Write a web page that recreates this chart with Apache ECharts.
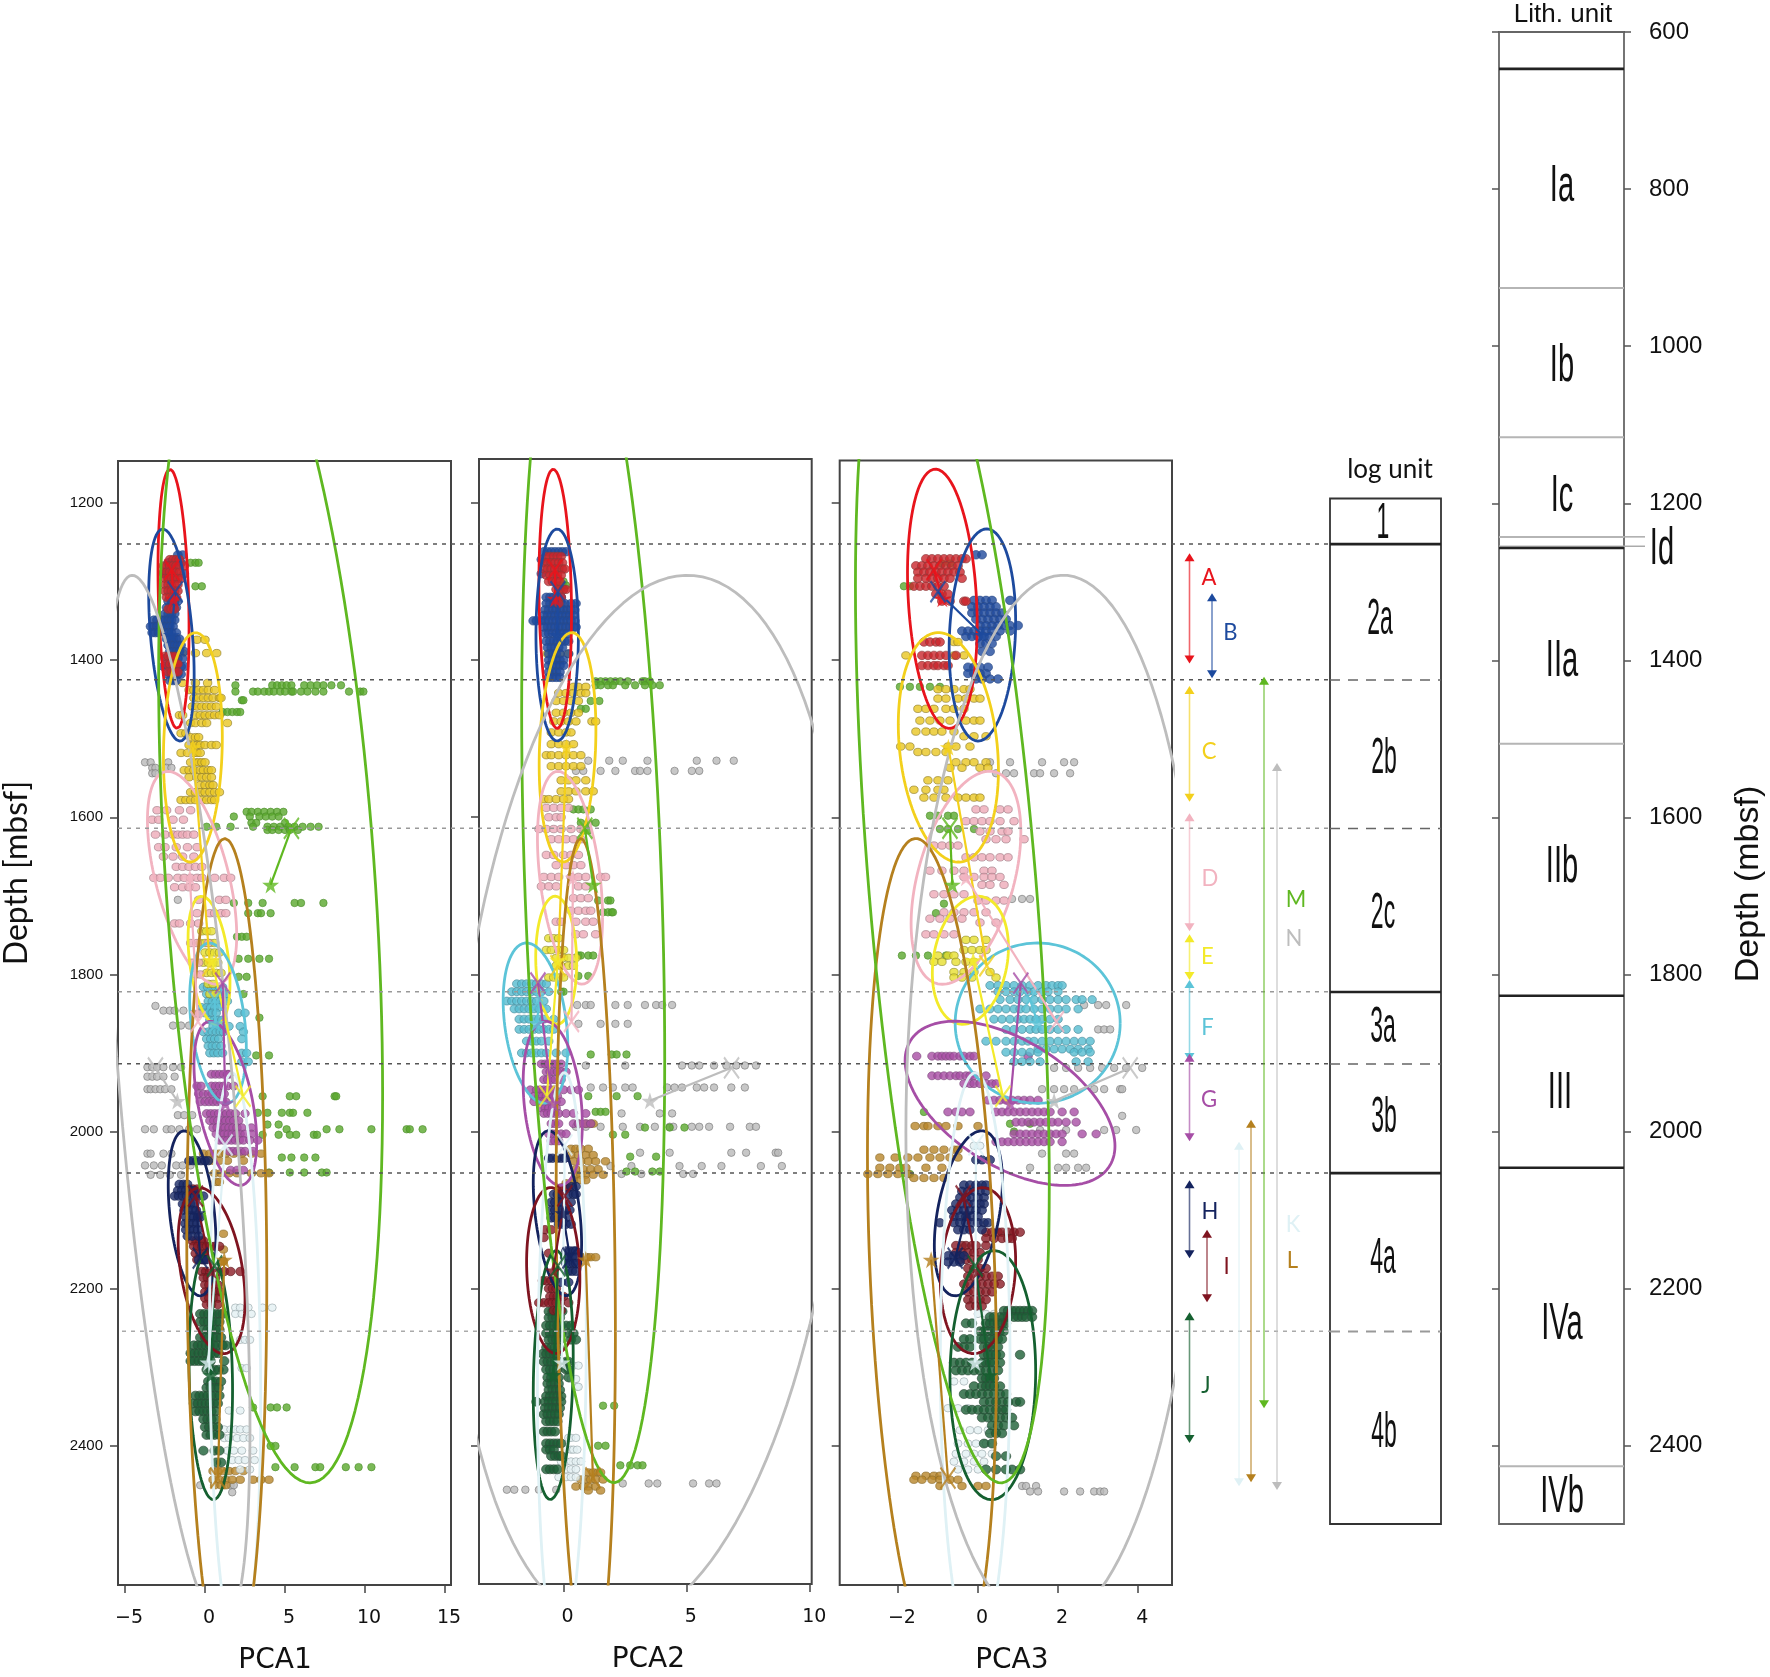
<!DOCTYPE html>
<html><head><meta charset="utf-8">
<style>html,body{margin:0;padding:0;background:#fff}#c{width:1770px;height:1677px}</style>
<script src="https://cdn.jsdelivr.net/npm/echarts@6/dist/echarts.min.js"></script>
</head><body><div id="c"></div>
<script>
const letters=['A','B','C','D','E','F','G','H','I','J','K','L','M','N'];
const clusterColors=['#e8141c','#1d4a9e','#f3d01c','#f2b3c0','#f3ea2a','#5cc4d8','#a64ea6','#14235e','#7f1420','#156030','#dff1f5','#b5801e','#5fb821','#bdbdbd'];
const pointFill=['#c9252c','#1f4a9c','#e9c522','#eeaab8','#e6df30','#55bcd0','#a84ea4','#1a2a66','#8a1c26','#1d5f36','#e4f0f3','#b8862b','#5aa82d','#b9b9b9'];
const pointEdge=['#8a3a3a','#2a4a86','#8f7d28','#a07a84','#8f8a28','#4a8a9a','#7c4a7c','#141f50','#5f1a20','#2c4c38','#9aa8ac','#8a6a2a','#4d8f2c','#777777'];
const pointWidth=[9,9,8.5,8.5,8.5,8.5,8.5,9,9,9.5,8,8.5,7.5,7.5];
const pointHeight=[8.5,8.5,7.5,7.5,7.5,8,8,8.5,8.5,9,7.5,7.5,7.5,7.5];

/* rows: [depth, x, x, ...] */
const pca1_A=[[1272,-2.2,-2,-1.8,-1.6],[1280,-2.6,-2.4,-2.2,-2,-1.8,-1.6,-1.3],[1288,-2.6,-2.4,-2.2,-2,-1.8,-1.6],[1296,-2.5,-2.3,-2.1,-1.9,-1.7,-1.5],[1304,-2.5,-2.3,-2.1,-1.9,-1.7],[1312,-2.5,-2.3,-2.1,-1.9,-1.7],[1320,-2.4,-2.2,-2,-1.8],[1335,-2.3,-2.1,-1.9],[1395,-2.5,-2.3,-2.1,-1.9],[1405,-2.4,-2.2,-2,-1.8,-1.7],[1415,-2.3,-2.1,-1.9,-1.7]];
const pca1_B=[[1266,-1.7,-1.4],[1276,-2.3,-1.9,-1.5],[1290,-2.6,-1.3],[1325,-2.3,-2.1,-1.9,-1.7],[1333,-2.4,-2.2,-2,-1.8],[1341,-2.5,-2.3,-2.1,-1.9],[1349,-3.2,-3,-2.7,-2.5,-2.3,-2.1,-1.9],[1357,-3.4,-3.2,-3,-2.8,-2.6,-2.4,-2.2,-2],[1365,-3.3,-3.1,-2.9,-2.5,-2.3,-2.1,-1.8],[1373,-2.4,-2.2,-2,-1.8,-1.6],[1381,-2.3,-2.1,-1.9,-1.7,-1.5],[1389,-2.2,-2,-1.8,-1.6,-1.3],[1398,-2.5,-2.2,-2,-1.7,-1.4],[1408,-2.6,-2.3,-2,-1.8,-1.5,-1.3],[1418,-2.3,-2.1,-1.9,-1.7,-1.5],[1426,-2.2,-2,-1.8]];
const pca1_C=[[1374,-.5,0],[1391,-1.4,-.6,.1,.73],[1429,-1.4,-.6,.16],[1438,-1,-.7,-.4,-.1,.2,.6],[1448,-.7,-.4,-.1,.2,.5,.9,1],[1459,-.8,-.5,-.2,.1,.4,.7],[1470,-1.6,-1.4,-.6,-.3,0,.3,.6,.9],[1480,-.9,-.6,-.2,.1,1.4],[1493,-1.5,-1.2],[1498,-.9,-.6,-.4],[1508,-1,-.7,-.5,-.3,0,.4,.7],[1518,-1.5,-1.1,-.7,-.5,-.3],[1530,-.9,-.6,-.4,-.2,0],[1540,-1.3,-1,-.7,-.3,-.1,.2,.4],[1549,-1,-.5,-.2,.1,.4],[1559,-.3,0,.3,.5],[1568,-.9,-.6,-.3,0,.3,.6,.9],[1578,-1.5,-1.2,-.9,-.6,-.2,.1,.4,.6]];
const pca1_D=[[1591,-3,-2.4,-1.6,-.9],[1603,-3.3,-2.9,-2,-1.35],[1622,-3.1,-2.5,-2,-1.7,-1.4,-1.1,-.7],[1638,-2.9,-2.5,-1.8,-1.1,-.5],[1650,-2.6,-2,-1.4,-.7],[1663,-1.8,-1.4,-1,-.6,-.2],[1677,-3.2,-2.8,-2.3,-1.7,-1.3,-.9,-.5,-.2,.6,1.2,1.6],[1689,-1.9,-1.4,-1,-.6],[1705,.9,1.3,-.4],[1722,.3,.6,1,1.3,-.5],[1735,-1.9,-1.6,-.9,-.4],[1760,-.9,-.5,.2],[1785,-.8,-.4],[1800,-.6,-.3],[1850,-.7,-.4]];
const pca1_E=[[1745,-.2,.1,.4],[1760,-.3,0,.3,.6],[1772,0,.3,.6,.9],[1785,-.1,.2,.5,.8],[1798,.1,.4,.7,1],[1812,.2,.5],[1825,.3,.6]];
const pca1_F=[[1816,-.1,.15,.4,.65,.9,1.1],[1825,.1,.35,.6,.85,1.1,1.3],[1834,.2,.45,.7,.95,1.2,1.4],[1842,-.2,.1,.35,.6,.85],[1849,-.3,0,.2,.45,.7,2.1,2.5],[1858,.3,.55,.8,1.05],[1866,.5,.75,1,1.5,2.2],[1873,-.1,.2,.45,.7,.95,1.15,2.4],[1882,.1,.35,.6,.85,2.3],[1891,.2,.45,.7,1],[1900,.3,.55,.8,1.1,2.3,2.6],[1911,2.3,2.7]];
const pca1_G=[[1927,.4,.65,.9,1.15,1.4,1.5],[1942,-.5,-.25,.4,.65,.9,1.15,1.4,1.8],[1952,-.4,-.1,.2,.45,.7,.95,1.2],[1962,-.3,0,.25,.5,.75,1,1.3],[1977,.1,.35,.6,.85,1.1,1.35,1.6,1.9,2.5],[1986,.3,.55,.8,1.05,1.3,1.55,1.8,2.1],[1995,.5,.75,1,1.25,1.5,1.75,2,2.3,2.9],[2003,.7,.95,1.2,1.45,1.7,1.95,2.2,2.5,2.9],[2011,.9,1.15,1.4,1.65,1.9,2.15,2.4,2.8,3.3],[2025,1.5,1.75,2,2.25,2.5,3],[2049,1.6,2,2.4]];
const pca1_H=[[2037,-1,-.75,-.5,-.25,0,.2],[2067,-1.6,-1.35,-1.1],[2075,-1.7,-1.45,-1.2,-.95,-.7],[2082,-1.9,-1.65,-1.4,-1.15,-.9,-.65,-.4,-.1],[2092,-1.4,-1.15,-.9,-.65],[2100,-1.3,-1.05,-.8,-.55],[2109,-1.2,-.95,-.7,-.45,-.3],[2117,-1.25,-1,-.75,-.5],[2125,-1.2,-.95,-.7,-.45],[2133,-1.1,-.8,-.4],[2163,-.4,-.1,.1]];
const pca1_I=[[2073,-1,-.75,-.5],[2139,-.8,-.55,-.3,-.1],[2146,-.7,-.45,-.2,.1,.35,.6,.9],[2155,-.6,-.3,0,.25],[2163,-.5,-.2,0],[2178,-.2,.05,.3,.55,.8,1.2,1.6,2.2],[2186,-.1,.15,.4,.65],[2195,0,.25,.5,.8],[2204,0,.25,.5,.75,1],[2212,0,.25,.5,.8],[2220,.1,.4,.8]];
const pca1_J=[[2232,-.3,-.05,.2,.45,.7,.9,1.1],[2242,-.3,-.05,.2,.45,.7,.9],[2252,-.1,.15,.4,.65,.9],[2262,-.3,0,.25,.5,.75,1],[2272,-.7,-.45,-.2,.05,.3,.55,.8,1.1,1.3],[2282,-.9,-.65,-.4,-.15,.1,.35,.6,.85],[2292,-.9,-.65,-.4,-.15,.1,.35,1.2],[2303,.1,.35,.6,.85,1.15],[2318,.2,.45,.7,1],[2326,.1,.35,.6,.85],[2336,-.6,-.35,-.1,.15,.4,.65,.9],[2346,-.7,-.45,-.2,.05,.3,.55,.8],[2356,-.6,-.35,-.1,.15,.4,.65],[2366,-.1,.15,.4,.65],[2376,0,.25,.5,.8],[2386,.1,.35,.6,.9],[2406,-.1,.6,.9],[2421,.7,1]];
const pca1_K=[[2224,1.9,2.2,2.7,3.6,4.2],[2232,1.9,2.3,2.9],[2265,2.2,2.5,2.8],[2301,2.3,2.6],[2355,1.5,2.2],[2379,1.2,1.6,1.9,2.2,2.6],[2390,1.2,1.5,2,2.4,2.8],[2406,1.4,1.8,2.3,3],[2418,1.7,2.1,2.5,3.1],[2430,2.2,2.8]];
const pca1_L=[[2028,-.1,.3,.6,.9,1.3,1.8,2.3,2.9,3.5],[2037,0,.4,.9,1.4,2.4],[2053,.6,1,1.5,2,2.9,3.5,4],[2064,.7,.9],[2130,1.15],[2150,1.15],[2165,1.15,1.1],[2432,.5,.8,1.1,1.5,1.9,2.4],[2443,.5,.9,1.3,1.7,2.2,3,3.5,4],[2450,.6,1,1.3]];
const pca1_M=[[1276,-.9,-.6,-.4],[1306,-.6,-.2],[1432,1.9,4.2,4.5,4.8,5.1,5.4,6.2,6.6,7,7.4,7.9,8.5],[1440,1.9,3,3.3,3.7,4,4.3,4.7,5,5.4,5.5,6,6.4,6.9,7.4,9,9.7,9.9],[1451,2.3,2.4],[1466,1.1,1.4,1.7,2,2.2],[1593,2.6,2.9,3.3,3.7,4.1,4.5,4.9],[1599,1.8,2.8,3.4,3.8,4.2,4.6],[1607,2.9,3.2,5],[1612,.1,.7,1.6,3,3.9,4.3,4.7,5.2,5.6,6.1,6.6,7.1],[1616,3.9,4.2,4.6,5,5.3,5.8],[1709,1.8,2.7,3.6,5.6,6,7.4],[1722,2.7,3.3,3.5,4.1],[1752,2,2.3,2.6],[1780,2.1,2.7,3.4,4],[1803,2.1,2.6],[1825,2.4],[1855,3.4],[1903,3.2,4],[1955,3.6,5.3,5.7,8.1,8.2],[1976,3.3,3.9,4.8,5.3,5.5,6.4],[1991,3.9,4.6],[1997,5.1,7.6,8.4,10.4,12.6,12.8,13.6],[2004,3.6,4.6,5.3,5.7,6.8,7],[2033,4.8,5.4,6.2,6.9],[2052,4,5.3,6.2,7.3,7.6],[2351,3,4.1,4.5,5.1],[2400,4.1,4.4],[2427,4.4,5.6,6.9,7.2,8.8,9.6,10.4]];
const pca1_N=[[1530,-3.75,-3.4,-2.3],[1537,-3.3,-3.1,-2.4,-2.1],[1544,-3.3,-3.1],[1705,-1.7],[1840,-3.1],[1846,-2.6,-2.2,-1.9,-1.35],[1865,-2,-1.5,-1],[1918,-3.6,-3.3,-3,-2.6,-2,-1.5],[1930,-3.6,-3.3,-3,-2.6,-1.9],[1946,-3.6,-3.4,-3.1,-2.8,-2.5,-2.1],[1979,-1.7,-1.3,-.8],[1997,-3.75,-3.2,-2.4,-2.1,-1.6,-1,-.5],[2028,-3.6,-3.4,-2.6,-2.1],[2043,-3.75,-3.2,-2.7,-1.8,-1.4,-.9],[2055,-3.4,-2.8,-2.2,-1.5],[2450,-.3,1.6,1.8],[2459,1.7]];

const pca2_A=[[1268,-.7,-.55,-.4,-.25,-.1],[1276,-.8,-.65,-.5,-.35,-.2,-.05],[1284,-.8,-.65,-.5,-.35,-.2,-.05,.05],[1292,-.7,-.55,-.4,-.25,-.1],[1300,-.6,-.45,-.3,-.15],[1310,-.3,-.15,0,.1],[1320,-.25,-.1],[1328,-.2]];
const pca2_B=[[1262,-.8,-.65,-.5,-.35,-.2,-.05,.1],[1272,-.9],[1290,-.9],[1320,-.7,-.55,-.4,-.25,-.1],[1328,-.7,-.55,-.4,-.25,-.1,.05,.3,.5],[1336,-.75,-.6,-.45,-.3,-.15,0,.15,.3,.45],[1343,-.8,-.65,-.5,-.35,-.2,-.05,.1,.25,.4],[1350,-1.23,-1.1,-.9,-.75,-.6,-.45,-.3,-.15,0,.15,.3,.45],[1358,-.8,-.65,-.5,-.35,-.2,-.05,.1,.25,.4,.5],[1366,-.75,-.6,-.45,-.3,-.15,0,.15],[1376,-.7,-.55,-.4,-.25,-.1,.05,.2],[1384,-.65,-.5,-.35,-.2,-.05],[1392,-.6,-.45,-.3,-.15,.2],[1400,-.6,-.45,-.3,-.15,0],[1407,-.6,-.45,-.3,-.15,0],[1415,-.6,-.45,-.3,-.15],[1422,-.6,-.45,-.3,-.15]];
const pca2_C=[[1392,-.66,-.4,-.15,.2],[1434,.4,.6,.9],[1442,-.2,.1,.4,.7,.9],[1452,-.3,0,.3,.6],[1467,-.3,0,.3,.6],[1478,-.4,-.1,.2,.5,1.15,1.3],[1492,-.5,-.2,.1,.3],[1507,-.5,-.2,.1,.4],[1521,-.7,-.5,-.2,.1,.4,.7],[1535,-.5,-.2,.1,.4,.7],[1553,-.1,.2,.5,.9],[1567,-.1,.2,.5,.9,1.2],[1577,-.8,-.6,-.3,0,.2]];
const pca2_D=[[1588,-.7,-.4,-.1,.2],[1600,-.6,-.3,-.1],[1615,-1,-.7,-.4,-.1,.3,.7],[1628,-.5,-.2,.1,.4,.7],[1648,-.7,-.4,0,.3,.6],[1661,-.3,.1,.4,.7],[1676,-.8,-.5,-.2,.3,.6,.9,1.5,1.7],[1688,-.9,-.6,-.3,.6,.9],[1703,.4,.7,1],[1719,.3,.6,.9,1.1],[1733,-.3,-.1,.5,.9,1.2],[1749,.5,.8,1.3]];
const pca2_E=[[1754,-.6,-.4,-.2],[1769,-.7,-.5,-.2,0],[1779,-.3,0,.2,.5],[1789,-.3,-.1,.2,.4],[1804,-.6,-.4,-.2,0]];
const pca2_F=[[1812,-1.9,-1.7,-1.5,-1.3,-1.1,-.9,-.7],[1822,-2.1,-1.9,-1.7,-1.5,-1.3,-1.1,-.9,-.6],[1834,-2.3,-2.1,-1.9,-1.7,-1.5,-1.3,-1.1,-.8],[1844,-2,-1.8,-1.6,-1.4,-1.2,-1,-.7],[1857,-1.8,-1.6,-1.4,-1.2,-1,-.8,-.4],[1870,-1.8,-1.6,-1.4,-1.2,-1,-.8,-.6,-.4],[1885,-1.5,-1.3,-1.1,-.9,-.6],[1900,-1.7,-1.5,-1.3,-1.1,-.9,-.7,-.3,.1]];
const pca2_G=[[1914,-.9,-.75,-.6,-.45,-.3,-.1],[1924,-.7,-.55,-.4,-.25,-.1,.1],[1934,-.8,-.65,-.5,-.35,-.1],[1947,-1.35,-1.1,-.95,-.8,-.65,-.5,-.35,0,.3,.6],[1955,-1.2,-1,-.85,-.7,-.55,-.4,-.25],[1962,-1.2,-.95,-.8,-.65,-.5,-.3,-.1],[1970,-.9,-.75,-.6,-.45,-.3],[1977,-.8,-.65,-.5,-.35,-.2,.1,.4,.9],[1990,-.5,-.35,-.2,.4,.6,.9,1.1],[2003,-.6,-.45,-.3,-.1,.1],[2012,-.5,-.35,-.2]];
const pca2_H=[[2034,-.6,-.45,-.25,-.1,.05],[2070,.3,.5],[2080,-.4,-.25,-.1,.2,.4,.5],[2090,-.5,-.35,-.2,-.05,.3],[2100,-.5,-.35,-.2,-.05,.1,.25],[2110,-.5,-.35,-.2,-.05,.1],[2118,-.2,-.05,.1,.3],[2152,.1,.25,.4,.5],[2160,.05,.2,.35,.5],[2168,.1,.25,.4,.5],[2178,.2,.35,.5],[2192,-.1,.2]];
const pca2_I=[[2072,-.1,.05,.2],[2085,-.1],[2125,-.75,-.5],[2135,-.8],[2155,-.6],[2190,-.85,-.7,-.5,-.35],[2200,-.6,-.45,-.3],[2210,-.55,-.4,-.25,-.1,0],[2218,-1,-.8,-.6,-.45,-.3,-.15,.2],[2228,-.4,-.25,-.1]];
const pca2_J=[[2229,-.6,-.45,-.3,-.15,-.05],[2237,-.6,-.45,-.3,-.15],[2247,-.7,-.55,-.4,-.25,-.1,.1,.3],[2257,-.7,-.55,-.4,-.25,-.1,.2,.4],[2265,-.6,-.45,-.3,-.15,.3,.5],[2275,-.7,-.5,-.35,-.2],[2283,-.85,-.7,-.55,-.4,-.3],[2293,-.8,-.65,-.5,-.35,-.2,.1,.2],[2303,-.7,-.55,-.4,-.25,.1,.2],[2313,-.65,-.5,-.35,-.2,.2],[2321,-.65,-.5,-.35,-.2],[2329,-.6,-.45,-.3,-.15],[2337,-.7,-.55,-.4,-.25,-.1],[2344,-1.1,-.75,-.6,-.45,-.3,-.1],[2352,-.75,-.6,-.45,-.3,-.15],[2360,-.8,-.65,-.5,-.35,-.2],[2369,-.7,-.55,-.4,-.25],[2382,-.8,-.65,-.5,-.35],[2397,-.7,-.55,-.4,-.25,-.1],[2405,-.7,-.55,-.4],[2413,-.5,-.35,-.2,-.1],[2430,-.7,-.55,-.4,-.25]];
const pca2_K=[[2298,.4,.6],[2315,.3,.5],[2325,.55,.6],[2390,.2,.3,.5],[2405,.1,.3,.4,.55],[2420,-.1,.1,.3,.5,.7],[2430,.1,.3,.5],[2440,-.2,.1,.3,.5]];
const pca2_L=[[1990,.6,.9,1.1,1.2],[2022,.3,.5,.7,1],[2030,.3,.6,.9,1.2],[2038,.4,.7,1,1.3,1.7],[2048,.5,.8,1.1,1.4],[2055,.5,.7,.9,1.2,1.6],[2062,.4,.7,.9],[2066,.1,.3],[2160,.8,.9,.95,1.1,1.3],[2434,1,1.2,1.4,1.5],[2443,.7,.9,1.1,1.3,1.6],[2452,.5,.8,1,1.3],[2457,1,1.5]];
const pca2_M=[[1300,0],[1305,-.2,-.05,.1],[1427,1.3,1.5,1.7,1.9,2.1,2.3,2.6,3.2,3.3,3.5],[1432,1.3,1.5,1.8,2,2.5,2.9,3.3,3.6,3.9],[1452,1.1,1.45],[1462,.7,.9],[1590,.4,.6,.8,1.1],[1607,.7,1,1.3],[1617,.8,1],[1706,1.4,1.8,1.9],[1721,1.6,1.8,1.95,2],[1776,.6,.7,1,1.2],[1802,.6,1],[1822,-.1,0],[1902,1.1,1.95,2.15,2.55],[1955,1,2.15,3],[1975,1.3,1.5,1.7],[1995,3.3,4.3,4.9],[2004,2,2.5],[2032,2.7,3.75],[2051,2.55,2.9,3.6,3.9],[2349,1.6,2.05],[2400,1.4,1.7],[2425,2.3,2.7,3,3.2]];
const pca2_N=[[1528,1,1.85,2.4,3.4,5.4,6.2,6.9],[1541,.5,.8,1.5,2.1,2.9,3.1,3.4,4.5,5.2,5.5],[1839,.55,.9,1.1,2.1,2.6,3.3,3.75,4,4.4],[1863,.6,1.5,2.1,2.6],[1916,.9,2.5,4.8,5.2,5.5,6.1,6.6,7,7.35,7.8],[1944,1.1,1.6,2,2.5,2.8,4.2,4.5,4.8,5.4,5.7,6.1,6.8,7.35],[1977,2.35,3.9,4.4],[1994,.5,.9,1.5,2.4,3.1,3.7,4.3,4.45,5.2,5.5,5.9,6.75,7.55,7.8],[2027,3.1,4.3,6.8,7.4,8.6,8.7],[2044,1.9,2.75,4.7,5.6,6.4,8,8.85],[2054,2.35,3.15,4.85,5.25],[2448,2.4,3.45,3.8,5.25,5.9,6.2],[2456,-2.3,-2,-1.55,-1,-.3]];

const pca3_A=[[1271,-1.3,-1.15,-1,-.85,-.7,-.55,-.4,-.3],[1280,-1.55,-1.4,-1.25,-1.1,-.95,-.8,-.65,-.5],[1288,-1.5,-1.35,-1.2,-1.05,-.9,-.75,-.6,-.45],[1296,-1.5,-1.3,-1.15,-1,-.85,-.7,-.4],[1306,-1.6,-1.45,-1.3,-1.15,-1,-.85],[1316,-1.05,-.9,-.75],[1325,-.9,-.7,-.35,-.3],[1377,-1.35,-1.2,-1.05,-.95],[1394,-1.4,-1.25,-1.1,-.95,-.8,-.55],[1407,-1.4,-1.25,-1.1,-1,-.85,-.75]];
const pca3_B=[[1266,-.05,.1],[1324,-.1,.05,.2,.35,.8],[1332,-.15,0,.15,.3,.45],[1340,-.15,0,.15,.3,.45,.6],[1348,-.05,.1,.25,.4,.55,.7],[1356,.05,.2,.35,.5,.65,.8,1],[1363,-.4,-.25,-.1,.05,.2,.35,.55,.8],[1370,-.3,-.15,0,.15,.3,.45],[1379,.05,.2,.35],[1389,.1,.3],[1409,-.25,-.1,.05,.25],[1417,-.25,-.1,.05,.2],[1424,-.05,.1,.3,.5]];
const pca3_C=[[1377,-.6,-.5],[1394,-1.8,-.6,-.35],[1437,-1,-.8,-.6,-.35,-.2],[1449,-1,-.8,-.5,-.3,-.1,.05],[1462,-1.5,-1.3,-1.1,-.8,-.6,-.35],[1477,-1.45,-1.2,-.95,-.7,-.3,-.1,.05],[1491,-1.55,-1.3,-1.1,-.9,-.6],[1497,-.35,-.1,.2],[1510,-1.93,-1.7,-.75,-.55,-.2],[1517,-1.5,-1.3,-1.05,-.8],[1530,-.55,-.3,-.1,.2],[1537,-.7,-.4,.05,.25],[1553,-1.25,-1,-.75],[1565,-1.6,-1.3,-1,-.85],[1575,-1.35,-1.1,-.8,-.5,-.3,-.1,.05]];
const pca3_D=[[1590,-.05,.15,.55,.75],[1605,-.3,-.1,.1,.3,.55,.9],[1618,.05,.3,.6,.75],[1628,.2,.45,.7,1.15],[1636,-1.1,-.9,-.7,-.5],[1651,-.3,-.1,.1,.3,.55,.75],[1668,-1.2,-.9,-.6,-.35,.15,.35],[1676,-.35,-.1,.15,.35,.55],[1686,.1,.3,.65],[1698,-1.1,-.85,-.6,-.35],[1706,0,.2,.45,.65],[1721,-.85,-.6,-.35,-.1,.2],[1729,-1.2,-.95,-.7,-.4],[1734,.05,.45],[1749,-1.3,-1.1,-.85,-.6]];
const pca3_E=[[1756,-.3,-.1,.2],[1769,-.35,-.15,.05,.2],[1776,-1,-.75,-.6],[1784,-1.1,-.9,-.55,-.3,-.1],[1797,-.6,-.35,-.1,.3],[1804,-.6,-.4,-.15,.45]];
const pca3_F=[[1814,.3,.5,.7,.9,1.1,1.3,1.5,1.7,1.85,2,2.1],[1822,.5,.7,.9,1.05,1.25,1.4,1.6,1.75,2],[1832,.55,.8,1,1.2,1.4,1.6,1.8,2,2.2,2.45,2.6,2.85],[1844,.05,.3,.5,.7,.9,1.05,1.2,1.4,1.6,1.8,2,2.2,2.5],[1857,.4,.6,.8,1,1.15,1.3,1.45,1.6,1.8,2],[1870,.7,.9,1.1,1.3,1.45,1.6,1.8,2,2.2,2.5],[1885,.2,.45,.7,.9,1.1,1.25,1.4,1.6,1.8,2,2.2,2.4,2.6,2.8],[1895,1.5,1.7,1.9,2.1,2.3,2.5,2.75],[1899,.7,.9,1.1,1.3,1.5,2.4,2.6,2.8],[1911,.9,1.1,1.3,1.55,2.45,2.75]];
const pca3_G=[[1904,-1.53,-1.15,-1,-.9,-.8,-.7,-.6,-.45,-.35,-.2,-.1,1.25],[1929,-1.15,-1,-.85,-.7,-.55,-.45,-.3,-.2,-.1,.2],[1939,-.35,-.2,-.1,.05,.2,.35,.45],[1960,.25,.4,.55,.7,.85,1,1.15,1.3,1.5],[1975,-.75,-.55,-.4,-.2,.45,.6,.75,.9,1.05,1.2,1.35,1.5,1.65,1.8,2.1,2.4],[1988,.95,1.1,1.25,1.4,1.55,1.7,1.85,2,2.2,2.45],[2003,.9,1.05,1.2,1.35,1.5,1.65,1.8,1.95,2.1,2.6,2.95],[2013,.45,.6,.75,.9,1.05,1.2,1.35,1.5,1.65,1.8,2.1]];
const pca3_H=[[2036,-.05,.1,.3],[2068,-.35,-.2,-.05,.1,.2],[2076,-.4,-.25,-.1,.05,.2],[2084,-.45,-.3,-.15,0,.15],[2092,-.55,-.4,-.25,-.1,.05,.15],[2100,-.65,-.5,-.35,-.2,-.05,.1],[2108,-.6,-.45,-.3,-.15,0],[2116,-.95,-.6,-.45,-.3,-.15,0,.15,.25],[2125,-.5,-.35,-.2,.1],[2158,-.75,-.6,-.45,-.35],[2166,-.75,-.6,-.45]];
const pca3_I=[[2128,.2,.35,.5,.6,.75,.9,1.05],[2136,.2,.4,.6,.75,.85],[2145,-.55,-.4,-.3,-.15,-.05,.2],[2154,-.55,-.4,-.25,-.1,.05],[2163,-.45,-.3,-.15,0],[2174,-.25,-.1,.05,.2],[2184,-.25,-.1,.05,.2,.35,.5],[2194,-.35,-.2,-.05,.1,.25,.4,.55],[2204,-.25,-.1,.05,.2,.35],[2214,-.25,-.1,.05,.2],[2222,-.2,-.05,.1]];
const pca3_J=[[2228,.65,.75,.85,.95,1.05,1.15,1.25,1.35],[2236,.3,.4,.55,.65,.75,.9,1,1.1,1.2,1.35],[2244,-.3,-.15,.2,.3,.4,.5,.6,.7],[2254,.05,.15,.25,.35,.45,.55,.65],[2264,-.35,-.2,.05,.15,.3,.4,.5,.6],[2274,-.5,-.35,-.2,.15,.25,.35,.5],[2284,.15,.25,.35,.45,.55,1.05],[2294,-.6,-.45,-.3,-.15,.1,.2,.3,.4,.55],[2304,-.55,-.4,-.25,-.1,.05,.2,.35,.5],[2314,.1,.2,.3,.4],[2324,-.1,.1,.2,.3,.4,.55],[2334,-.35,-.2,-.05,.1,.25,.4,.55,.7],[2344,.15,.3,.45,.6,.75,.95,1.05],[2354,-.3,-.15,0,.15,.3,.45,.6,.7],[2364,.1,.25,.4,.55,.7,.85],[2374,.35,.5,.65,.9],[2384,.3,.45,.6],[2397,.15,.35],[2413,.45,.7],[2430,.2,.45,.7,.85,1.05]];
const pca3_K=[[2018,-.1,.05],[2232,0,.2,.4],[2265,-.35,-.1],[2318,-.6,-.35],[2352,-.75,-.5,-.25],[2380,-.45,-.2,0,.25,.4],[2397,-.5,-.25,-.05,.2],[2410,-.55,-.3,-.1,.1,.35],[2420,-.6,-.35,-.1,.15],[2430,-.5,-.25,0]];
const pca3_L=[[1993,-1.57,-1.35,-1.25,-1,-.8,-.5,0],[2023,-1.35,-1.1,-.85,-.6,-.5],[2033,-2.45,-2.07,-1.75,-1.5,-1.2,-.95,-.7,-.5],[2046,-2.45,-2.2,-1.95,-1.8,-1.3,-.9],[2054,-2.75,-2.5,-2.25,-2,-1.75],[2059,-1.6,-1.35,-1.1,-.85],[2438,-1.55,-1.3,-1.1,-.95],[2443,-1.6,-1.4,-1.15,-.95,-.7,-.5],[2451,-.95,-.4,0,.2]];
const pca3_M=[[1277,-.9,-.7],[1306,-1.85,-1.7],[1434,-1.95,-1.7,-1.45,-1.2,-.95],[1598,-1.2,-1,-.75,-.6],[1615,-.95,-.75,-.5,-.1],[1710,-.85],[1722,-1.05],[1776,-1.9,-1.55,-1.25,-.8],[1975,-1.35],[1990,.8,1.3],[2000,.9],[2054,-1.7]];
const pca3_N=[[1530,.3,.8,1.6,2.15,2.4],[1544,.45,.7,.9,1.4,1.55,1.9,2.3],[1704,.85,1.1,1.3],[1839,2.65,3,3.2,3.7],[1870,3,3.15,3.3],[1919,1.9,2.2,2.5,2.8,3.1,3.4,3.7,4.1],[1946,1.6,1.9,2.15,2.4,2.9,3.15,3.55,3.6],[1980,3.6],[1998,1.55,2.2,3.15,3.45,3.95],[2028,1.6,2.2,2.4],[2046,1.3,2,2.2,2.5,2.7],[2451,1.1,1.2,1.45],[2458,1.3,1.5,2.15,2.55,2.9,3.05,3.15]];

/* fitted ellipses, order A..N: centre depth and half depth, then centre x, half x, correlation */
const ellipseDepth=[[1322,165],[1368,135],[1511,146],[1677,135.5],[1782,81.5],[1862,102],[1964,104.5],[2104,105],[2177,105.6],[2310,158.5],[2294,369],[2163,536],[1686,761],[1961,669]];
const ellipse_pca1=[[-1.97,.97,.23],[-2.1,1.42,.38],[-.76,1.84,-.09],[-.81,2.79,.54],[.25,1.31,.35],[.81,1.77,.3],[1.27,1.96,.47],[-.81,1.49,.34],[.41,2.09,.36],[.36,1.36,.12],[1.88,1.6,.12],[1.36,2.5,.05],[4.1,7,.35],[-1.73,4.54,.62]];
const ellipse_pca2=[[-.34,.66,.12],[-.26,.86,0],[.16,1.15,-.15],[.26,1.32,.37],[-.3,.83,.05],[-1.14,1.31,.28],[-.44,1.2,.25],[-.25,.98,.37],[-.42,1.08,.1],[-.42,.81,-.15],[-.07,.99,-.1],[.9,1.2,.17],[1.2,2.9,.29],[3.5,8.03,-.19]];
const ellipse_pca3=[[-.89,.87,.2],[.11,.83,-.13],[-.74,1.25,.2],[-.3,1.37,-.43],[-.19,.95,-.2],[1.49,2.06,0],[.8,2.62,.52],[-.24,.85,-.39],[0,.94,-.12],[.37,1.07,-.03],[-.07,.87,0],[-1.15,1.61,.25],[-.64,2.42,.5],[1.9,3.7,-.06]];
/* star = centre marker, cross = second marker */
const star_pca1=[-1.97,-2.1,-.76,-.95,.42,.65,1.27,-.5,.41,.36,.19,1.2,4.1,-1.73];
const star_pca2=[-.34,-.26,.12,.38,-.23,-1.1,-.44,-.03,-.42,-.42,-.07,.9,1.2,3.5];
const star_pca3=[-.89,.11,-.74,-.3,-.12,1.49,.8,-.28,0,.3,-.07,-1.17,-.64,1.9];
const crossDepth=[1285,1313,1789,1860,1955,1832,1811,2161,2082,2171,2017,2441,1614,1919];
const cross_pca1=[-2.08,-1.87,.31,-.44,2.38,.6,1.1,-.3,-.6,.6,1.25,.8,5.4,-3.1];
const cross_pca2=[-.35,-.23,-.23,.32,-.68,-.96,-1.04,.26,.05,-.23,.05,1.19,.86,6.81];
const cross_pca3=[-1.1,-1,.22,1.96,.62,1.3,1.07,-.57,-.37,-.07,-.05,-.75,-.7,3.8];

const depthTicks=[1200,1400,1600,1800,2000,2200,2400];
const lithTicks=[600,800,1000,1200,1400,1600,1800,2000,2200,2400];
const boundaryDepths=[1252,1425,1614,1822,1913.5,2052.5,2254];
const boundaryColors=['#555','#555','#999','#999','#555','#555','#aaa'];
const boundaryStart=[118,118,118,118,118,118,122];
const logLines=[1252,1425,1614,1822,1913.5,2052.5,2254];
const logHeavy=[1,0,0,1,0,1,0];
const logUnits=['1','2a','2b','2c','3a','3b','4a','4b'];
const logUnitDepths=[1223,1345,1522,1719,1864,1979,2158,2379];
const logUnitLanes=[1383,1380,1384,1383,1383,1384,1383,1384];
const lithLines=[647,926,1116,1243,1255,1257,1506,1827,2046,2426];
const lithHeavy=[1,0,0,0,0,1,0,1,1,0];
const lithUnits=['Ia','Ib','Ic','Id','IIa','IIb','III','IVa','IVb'];
const lithUnitDepths=[793,1022,1187,1255,1397,1659,1947,2241,2461];
const lithUnitLanes=[1562,1562,1562,1662,1562,1562,1560,1562,1562];
const arrowLanes=[1189.5,1212,1189.5,1189.5,1189.5,1189.5,1189.5,1189.5,1207,1189.5,1239,1251,1264,1277];
const arrowTop=[1269,1320,1438,1600,1754,1812,1906,2067,2130,2235,2018,1990,1426,1536];
const arrowBottom=[1399,1418,1575,1740,1802,1905,2007,2156,2212,2391,2446,2441,2347,2451];
const letterLanes=[1209,1230.5,1209,1210,1207.5,1207.5,1209,1210,1226.5,1206,1293,1292.5,1296,1294];
const letterDepths=[1295,1364,1516,1677,1777,1867,1959,2101,2171,2323,2118,2164,1704,1754];

const STAR='path://M50 0L61 35L98 35L68 57L79 92L50 70L21 92L32 57L2 35L39 35Z';
const CROSS='path://M0 0L100 100M100 0L0 100';
const P1Y=[1146.5,2577],P2Y=[1144,2576],P3Y=[1146,2577];

function ring(cx,a,cy,B,r){const f=Math.acos(r),o=[];for(let i=0;i<=140;i++){const t=i/140*2*Math.PI;o.push([cx+a*Math.cos(t),cy+B*Math.cos(t-f)]);}return o;}
function expand(rows){const o=[];rows.forEach(w=>{for(let i=1;i<w.length;i++)o.push([w[i],w[0]]);});return o;}

const panels=[
 {pts:[pca1_A,pca1_B,pca1_C,pca1_D,pca1_E,pca1_F,pca1_G,pca1_H,pca1_I,pca1_J,pca1_K,pca1_L,pca1_M,pca1_N],ell:ellipse_pca1,star:star_pca1,cross:cross_pca1},
 {pts:[pca2_A,pca2_B,pca2_C,pca2_D,pca2_E,pca2_F,pca2_G,pca2_H,pca2_I,pca2_J,pca2_K,pca2_L,pca2_M,pca2_N],ell:ellipse_pca2,star:star_pca2,cross:cross_pca2},
 {pts:[pca3_A,pca3_B,pca3_C,pca3_D,pca3_E,pca3_F,pca3_G,pca3_H,pca3_I,pca3_J,pca3_K,pca3_L,pca3_M,pca3_N],ell:ellipse_pca3,star:star_pca3,cross:cross_pca3}
];

const series=[];
panels.forEach((p,g)=>{
 const drawOrder=[13,12,11,10,9,8,7,6,5,4,3,2,1,0];
 drawOrder.forEach(i=>{
  series.push({type:'scatter',name:letters[i],xAxisIndex:g,yAxisIndex:g,data:expand(p.pts[i]),symbolSize:[pointWidth[i],pointHeight[i]],z:2,silent:true,animation:false,
    itemStyle:{color:pointFill[i],borderColor:pointEdge[i],borderWidth:.8}});
 });
 letters.forEach((l,i)=>{
  const e=p.ell[i],d=ellipseDepth[i];
  series.push({type:'line',name:l+' ellipse',xAxisIndex:g,yAxisIndex:g,data:ring(e[0],e[1],d[0],d[1],e[2]),showSymbol:false,symbol:'none',clip:true,z:3,silent:true,animation:false,
    lineStyle:{color:clusterColors[i],width:2.8}});
  series.push({type:'line',name:l+' link',xAxisIndex:g,yAxisIndex:g,data:[[p.cross[i],crossDepth[i]],[p.star[i],d[0]]],showSymbol:false,symbol:'none',z:4,silent:true,animation:false,
    lineStyle:{color:clusterColors[i],width:2.2}});
  series.push({type:'scatter',name:l+' star',xAxisIndex:g,yAxisIndex:g,data:[[p.star[i],d[0]]],symbol:STAR,symbolSize:17,z:5,silent:true,animation:false,
    itemStyle:{color:clusterColors[i]}});
  series.push({type:'scatter',name:l+' cross',xAxisIndex:g,yAxisIndex:g,data:[[p.cross[i],crossDepth[i]]],symbol:CROSS,symbolSize:[15,21],z:5,silent:true,animation:false,
    itemStyle:{color:'none',borderColor:clusterColors[i],borderWidth:2.2}});
 });
});

/* log-unit column */
logLines.forEach((d,i)=>series.push({type:'line',xAxisIndex:3,yAxisIndex:3,data:[[0,d],[1,d]],showSymbol:false,symbol:'none',z:4,silent:true,animation:false,
  lineStyle:logHeavy[i]?{color:'#222',width:2.6}:{color:i==6?'#999':'#666',width:i==6?2:1.5,type:[10,8]}}));
/* lith column */
lithLines.forEach((d,i)=>series.push({type:'line',xAxisIndex:4,yAxisIndex:4,data:[[0,d],[1,d]],showSymbol:false,symbol:'none',z:4,silent:true,animation:false,
  lineStyle:lithHeavy[i]?{color:'#222',width:2.6}:{color:'#b5b5b5',width:2}}));

/* overlay: boundary lines, arrows, letters, unit names */
boundaryDepths.forEach((d,i)=>series.push({type:'line',xAxisIndex:5,yAxisIndex:6,data:[[boundaryStart[i],d],[1330,d]],showSymbol:false,symbol:'none',z:6,silent:true,animation:false,
  lineStyle:{color:boundaryColors[i],width:1.5,type:[4,5]}}));
[1243,1255].forEach(d=>series.push({type:'line',xAxisIndex:5,yAxisIndex:6,data:[[1624,d],[1645,d]],showSymbol:false,symbol:'none',z:6,silent:true,animation:false,lineStyle:{color:'#aaa',width:1.5}}));
letters.forEach((l,i)=>{
 series.push({type:'line',name:l+' range',xAxisIndex:5,yAxisIndex:6,
   data:[{value:[arrowLanes[i],arrowTop[i]],symbol:'triangle',symbolRotate:0,symbolSize:[10,8]},{value:[arrowLanes[i],arrowBottom[i]],symbol:'triangle',symbolRotate:180,symbolSize:[10,8]}],
   showSymbol:true,showAllSymbol:true,z:6,silent:true,animation:false,
   itemStyle:{color:clusterColors[i]},lineStyle:{color:clusterColors[i],width:1.6,opacity:.65}});
});
function textSeries(xs,ds,texts,style,scaleX,dy){
 return {type:'custom',xAxisIndex:5,yAxisIndex:6,z:7,silent:true,animation:false,clip:false,
  data:xs.map((x,i)=>[x,ds[i]]),encode:{x:0,y:1},
  renderItem:(p,api)=>{const c=api.coord([api.value(0),api.value(1)]);const t=texts[p.dataIndex];
   return {type:'text',x:c[0],y:c[1]+dy,scaleX:scaleX,style:{text:t,align:'center',verticalAlign:'middle',fontSize:style.size,fontFamily:style.family,fill:style.fill?style.fill[p.dataIndex]:'#111'}};}};
}
series.push(textSeries(logUnitLanes,logUnitDepths,logUnits,{size:50,family:'Liberation Sans'},.46,3.5));
series.push(textSeries(lithUnitLanes,lithUnitDepths,lithUnits,{size:52,family:'Liberation Sans'},.56,3.5));
series.push(textSeries(letterLanes,letterDepths,letters,{size:24,family:'Lato',fill:clusterColors},.92,0));

const xCfg=[
 {name:'PCA1',min:-5.44,max:15.375,ticks:[-5,0,5,10,15],pad:[0,19,0,0]},
 {name:'PCA2',min:-3.43,max:10.06,ticks:[0,5,10],pad:[0,0,0,6]},
 {name:'PCA3',min:-3.453,max:4.844,ticks:[-2,0,2,4],pad:[0,0,0,12]}];
const tickLine={show:true,length:8,inside:false,lineStyle:{color:'#444',width:1.5}};
const xAxes=xCfg.map((c,g)=>({type:'value',gridIndex:g,min:c.min,max:c.max,splitLine:{show:false},axisLine:{show:false,onZero:false},
  axisTick:{...tickLine,customValues:c.ticks},
  axisLabel:{customValues:c.ticks,fontFamily:'DejaVu Sans',fontSize:19,color:'#111',margin:24,padding:[0,0,0,8],formatter:v=>String(v).replace('-','\u2212')},
  name:c.name,nameLocation:'middle',nameGap:62,nameTextStyle:{fontFamily:'DejaVu Sans',fontSize:28,color:'#111',padding:c.pad}}));
xAxes.push({type:'value',gridIndex:3,min:0,max:1,show:false,splitLine:{show:false}});
xAxes.push({type:'value',gridIndex:4,min:0,max:1,show:false,splitLine:{show:false}});
xAxes.push({type:'value',gridIndex:5,min:0,max:1770,show:false,splitLine:{show:false}});

const plain=v=>String(v);
const yBase=(g,r)=>({type:'value',gridIndex:g,inverse:true,min:r[0],max:r[1],splitLine:{show:false},axisLine:{show:false,onZero:false},axisTick:{...tickLine,customValues:depthTicks}});
const lithRight={type:'value',gridIndex:4,inverse:true,min:600,max:2499.5,position:'right',splitLine:{show:false},axisLine:{show:false,onZero:false},axisTick:{show:true,length:7,lineStyle:{color:'#555',width:1.5},customValues:lithTicks},
  axisLabel:{customValues:lithTicks,fontFamily:'Liberation Sans',fontSize:24,color:'#111',margin:25,padding:[4,0,0,0],formatter:plain}};
const yAxes=[
 {...yBase(0,P1Y),axisLabel:{customValues:depthTicks,fontFamily:'Liberation Sans',fontSize:15,color:'#111',margin:15,padding:[4,0,0,0],formatter:plain}},
 {...yBase(1,P2Y),axisLabel:{show:false}},
 {...yBase(2,P3Y),axisLabel:{show:false}},
 {type:'value',gridIndex:3,inverse:true,min:1194,max:2499,show:false,splitLine:{show:false}},
 {type:'value',gridIndex:4,inverse:true,min:600,max:2499.5,position:'left',splitLine:{show:false},axisLine:{show:false,onZero:false},axisTick:{show:true,length:7,lineStyle:{color:'#555',width:1.5},customValues:lithTicks},axisLabel:{show:false}},
 lithRight,
 {type:'value',gridIndex:5,inverse:true,min:559.8,max:2694,show:false,splitLine:{show:false}}
];

const boxBorder={show:true,backgroundColor:'transparent',borderColor:'#444',borderWidth:2,outerBoundsMode:'none'};
const plainGrid={outerBoundsMode:'none',backgroundColor:'transparent'};
const option={
 backgroundColor:'#fff',animation:false,
 grid:[
  {left:118,top:461,width:333,height:1124,...boxBorder},
  {left:479,top:459,width:332.7,height:1125,...boxBorder},
  {left:839.7,top:460.5,width:332.3,height:1124.5,...boxBorder},
  {left:1330,top:498.5,width:111,height:1025.5,show:true,borderColor:'#333',borderWidth:1.8,...plainGrid},
  {left:1499,top:32,width:125,height:1492,show:true,borderColor:'#666',borderWidth:1.8,...plainGrid},
  {left:0,top:0,width:1770,height:1677,show:false,...plainGrid}
 ],
 xAxis:xAxes,yAxis:yAxes,series:series,
 graphic:[
  {type:'text',x:17,y:873,rotation:Math.PI/2,style:{text:'Depth [mbsf]',align:'center',verticalAlign:'middle',fontFamily:'Lato',fontSize:32,fill:'#111'}},
  {type:'text',x:1749,y:884,rotation:Math.PI/2,style:{text:'Depth (mbsf)',align:'center',verticalAlign:'middle',fontFamily:'Liberation Sans',fontSize:34,fill:'#111'}},
  {type:'text',x:1390,y:470,style:{text:'log unit',align:'center',verticalAlign:'middle',fontFamily:'Lato',fontSize:26,fill:'#111'}},
  {type:'text',x:1563,y:15,style:{text:'Lith. unit',align:'center',verticalAlign:'middle',fontFamily:'Liberation Sans',fontSize:26,fill:'#111'}}
 ]
};
const chart=echarts.init(document.getElementById('c'),null,{renderer:'canvas'});
chart.setOption(option);
</script></body></html>
